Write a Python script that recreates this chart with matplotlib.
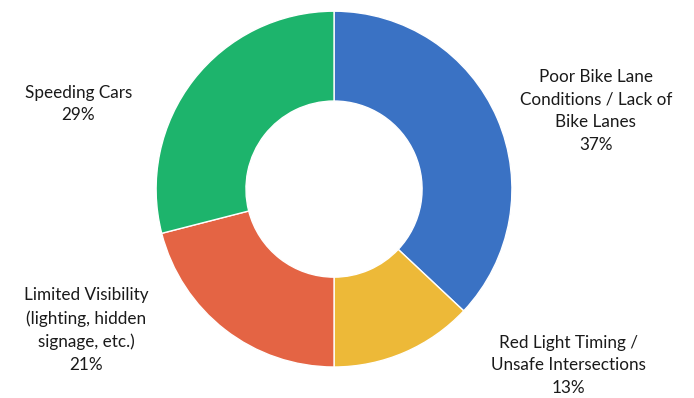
import matplotlib
matplotlib.use('Agg')
import matplotlib.pyplot as plt

labels = ['Poor Bike Lane\nConditions / Lack of\nBike Lanes',
          'Red Light Timing /\nUnsafe Intersections',
          'Limited Visibility\n(lighting, hidden\nsignage, etc.)',
          'Speeding Cars']
values = [37, 13, 21, 29]
colors = ['#3A72C4', '#EDB938', '#E46444', '#1DB46C']

# label centres in data units (pie radius = 1)
label_pos = [(1.472, 0.438), (1.32, -0.99), (-1.393, -0.792), (-1.438, 0.478)]

plt.rcParams['font.family'] = ['Lato', 'DejaVu Sans']

fig = plt.figure(figsize=(6.94, 3.98), dpi=100)
ax = fig.add_axes([0.2248, 0.0779, 0.513, 0.894])

ax.pie(values, colors=colors, startangle=90, counterclock=False,
       radius=1, wedgeprops=dict(width=0.505, edgecolor='white', linewidth=1))
ax.set_xlim(-1, 1)
ax.set_ylim(-1, 1)
ax.set_aspect('equal')
ax.axis('off')

for lab, v, (x, y) in zip(labels, values, label_pos):
    ax.text(x, y, f'{lab}\n{v}%', ha='center', va='center', fontsize=12.3,
            color='#1a1a1a', linespacing=1.5, clip_on=False)

fig.savefig('out.png', dpi=100)
